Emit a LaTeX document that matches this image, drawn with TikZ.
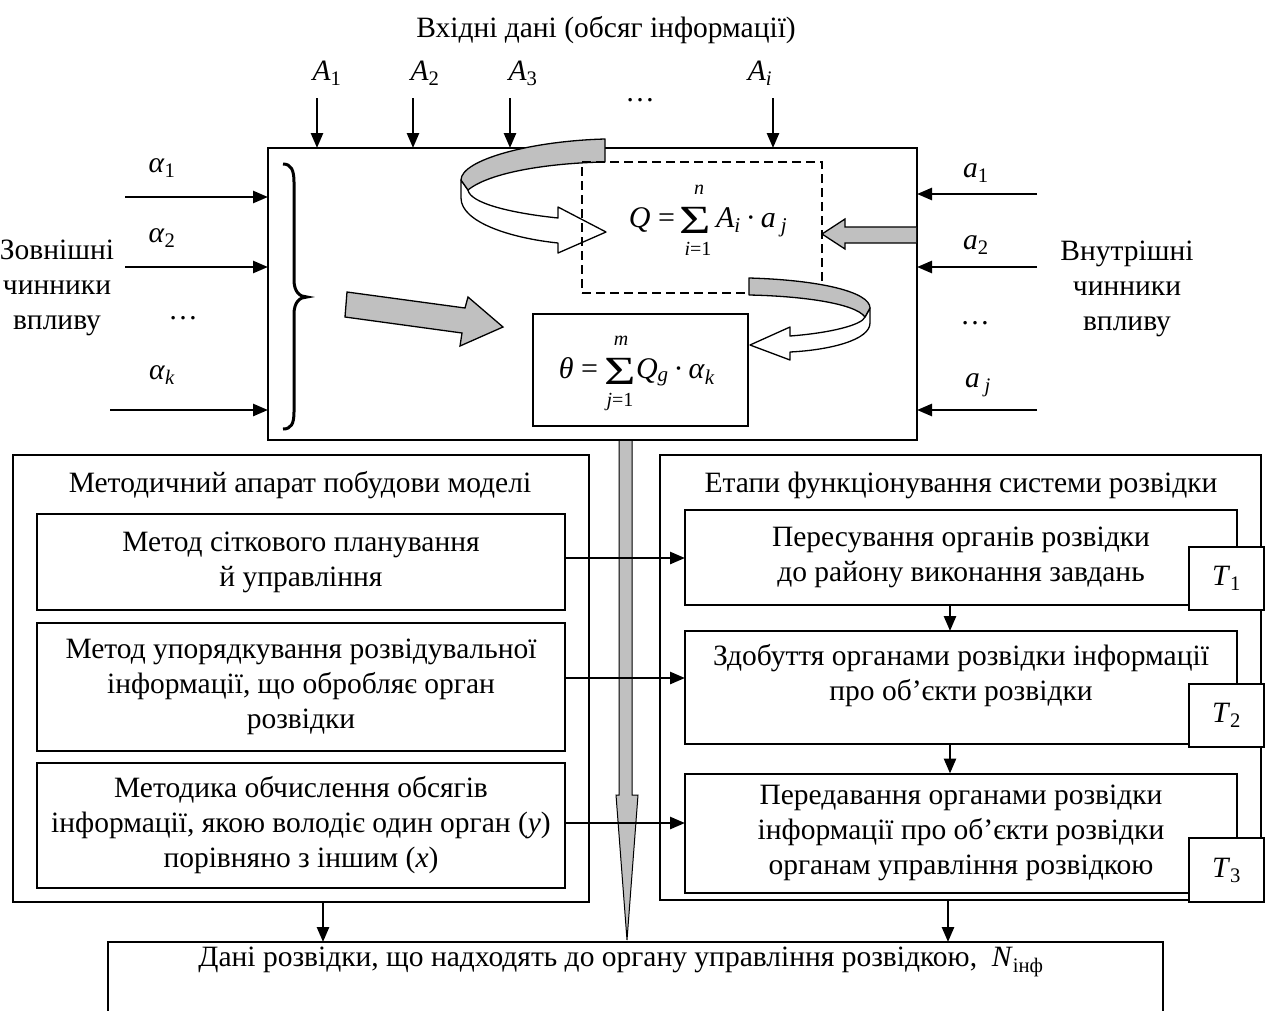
\documentclass[tikz,border=0pt]{standalone}
\usepackage{fontspec}
\setmainfont{Liberation Serif}
\usetikzlibrary{arrows.meta,calc}
\definecolor{ribc}{RGB}{192,192,192}
\newcommand{\bigsig}{\scalebox{1.35}[1]{Σ}}
\begin{document}
\begin{tikzpicture}[x=1pt,y=-1pt,
  every node/.style={inner sep=0pt, outer sep=0pt},
  font=\fontsize{29.5}{35}\selectfont,
  box/.style={draw, line width=2pt, align=center},
  arr/.style={line width=2.6pt, -{Triangle[length=15pt,width=12pt]}},
  rib/.style={draw, line width=1.3pt, line join=round},
  lbl/.style={align=center},
  fml/.style={font=\fontsize{30}{30}\selectfont},
  sig/.style={font=\fontsize{40}{40}\selectfont, text height=26pt, text depth=0pt},
  lim/.style={font=\fontsize{20}{20}\selectfont\itshape, text height=13pt, text depth=0pt}]
\useasboundingbox (0,0) rectangle (1265,1010);

% main box
\node[box, line width=2.5pt, minimum width=649pt, minimum height=292pt] (main) at (592.5,294) {};

% title and inputs
\node (title) at (606,30) {Вхідні дані (обсяг інформації)};
\node (lA1) at (327,73) {\textit{A}\textsubscript{1}};
\node (lA2) at (425,73) {\textit{A}\textsubscript{2}};
\node (lA3) at (523,73) {\textit{A}\textsubscript{3}};
\node (lAi) at (760,73) {\textit{A}\textsubscript{\textit{i}}};
\node (dotsA) at (640,100) {…};

% left labels
\node[lbl] (ext) at (57,288) {Зовнішні\\чинники\\впливу};
\node (al1) at (162,168) {\textit{α}\textsubscript{1}};
\node (al2) at (162,238) {\textit{α}\textsubscript{2}};
\node (alk) at (162,375) {\textit{α}\textsubscript{\textit{k}}};
\node (dotsL) at (183,318) {…};

% right labels
\node[lbl] (int) at (1127,289) {Внутрішні\\чинники\\впливу};
\node (a1) at (976,173) {\textit{a}\textsubscript{1}};
\node (a2) at (976,245) {\textit{a}\textsubscript{2}};
\node (aj) at (978,385) {\textit{a}\,\textsubscript{\textit{j}}};
\node (dotsR) at (975,323) {…};

% brace
\draw[line width=3pt] (283,164) .. controls (291,164) and (294,170) .. (294,182) -- (294,280)
  .. controls (294,292) and (300,297) .. (307,297)
  .. controls (300,297) and (294,302) .. (294,314) -- (294,412)
  .. controls (294,424) and (291,429) .. (283,429);

% big grey arrow
\draw[rib, fill=ribc, line join=miter] (347,292) -- (465,308) -- (468,297) -- (503,327) -- (460,346) -- (462,333) -- (345,317) -- cycle;

% ribbon arrow 1
\draw[rib, fill=white] (461,180) -- (461,198) .. controls (461,222) and (510,238) .. (558,243)
  -- (558,253) -- (606,232) -- (558,207) -- (558,218)
  .. controls (510,213) and (470,203) .. (468,190) -- cycle;
\draw[rib, fill=ribc] (605,139) .. controls (530,141) and (461,160) .. (461,180)
  -- (468,190) .. controls (490,172) and (550,163) .. (605,162) -- cycle;

% dashed box with Q
\node[draw, line width=2pt, dash pattern=on 9pt off 5pt, minimum width=240pt, minimum height=131pt] (qbox) at (702,227.5) {};
\node[sig, anchor=base] (qsig) at (695,233) {\bigsig};
\node[fml, anchor=base east] (qlhs) at (675,227) {\textit{Q} =};
\node[fml, anchor=base west] (qrhs) at (716,227) {\textit{A}\textsubscript{\textit{i}}\,·\,\textit{a}\,\textsubscript{\textit{j}}};
\node[lim, anchor=base] (qn) at (699,194) {n};
\node[lim, anchor=base] (qi) at (698,255) {i\upshape=1};

% theta box
\node[box, minimum width=215pt, minimum height=112pt] (tbox) at (640.5,370) {};
\node[sig, anchor=base] (tsig) at (620,384) {\bigsig};
\node[fml, anchor=base east] (tlhs) at (598,378) {\textit{θ} =};
\node[fml, anchor=base west] (trhs) at (636,378) {\textit{Q}\textsubscript{\textit{g}}\,·\,\textit{α}\textsubscript{\textit{k}}};
\node[lim, anchor=base] (tm) at (621,345) {m};
\node[lim, anchor=base] (tj) at (620,406) {j\upshape=1};

% ribbon arrow 2
\draw[rib, fill=white] (870,308) -- (870,323) .. controls (870,340) and (830,350) .. (790,352)
  -- (790,360) -- (750,345) -- (790,327) -- (790,336)
  .. controls (830,333) and (862,325) .. (865,317) -- cycle;
\draw[rib, fill=ribc] (749,278) .. controls (820,280) and (870,292) .. (870,308)
  -- (865,317) .. controls (855,303) and (800,296) .. (749,295) -- cycle;

% grey arrow from the right
\draw[rib, fill=ribc, line join=miter] (916,227) -- (845,227) -- (845,219) -- (822,234) -- (845,249) -- (845,243) -- (916,243);

% input arrows
\coordinate (cA1) at (317,98);
\coordinate (cA2) at (413,98);
\coordinate (cA3) at (510,98);
\coordinate (cAi) at (773,98);
\foreach \c in {cA1,cA2,cA3,cAi} \draw[arr] (\c) -- (\c |- main.north);
\coordinate (cL1) at (125,197);
\coordinate (cL2) at (125,267);
\coordinate (cLk) at (110,410);
\foreach \c in {cL1,cL2,cLk} \draw[arr] (\c) -- (\c -| main.west);
\coordinate (cR1) at (1037,194);
\coordinate (cR2) at (1037,267);
\coordinate (cRj) at (1037,410);
\foreach \c in {cR1,cR2,cRj} \draw[arr] (\c) -- (\c -| main.east);

% left block
\node[box, line width=2.5pt, minimum width=576pt, minimum height=447pt] (LB) at (301,678.5) {};
\node (lbt) at (300,485) {Методичний апарат побудови моделі};
\node[box, minimum width=528pt, minimum height=96pt] (L1) at (301,562) {Метод сіткового планування\\й управління};
\node[box, minimum width=528pt, minimum height=128pt] (L2) at (301,687) {Метод упорядкування розвідувальної\\інформації, що обробляє орган\\розвідки};
\node[box, minimum width=528pt, minimum height=125pt] (L3) at (301,825.5) {Методика обчислення обсягів\\інформації, якою володіє один орган (\textit{y})\\порівняно з іншим (\textit{x})};

% right block
\node[box, line width=2.5pt, minimum width=601pt, minimum height=445pt] (RB) at (960.5,677.5) {};
\node (rbt) at (961,485) {Етапи функціонування системи розвідки};
\node[box, minimum width=552pt, minimum height=95pt] (R1) at (961,557.5) {Пересування органів розвідки\\до району виконання завдань};
\node[box, minimum width=552pt, minimum height=113pt] (R2) at (961,687.5) {};
\node[lbl] (r2t) at (961,675.5) {Здобуття органами розвідки інформації\\про об’єкти розвідки};
\node[box, minimum width=552pt, minimum height=119pt] (R3) at (961,833) {Передавання органами розвідки\\інформації про об’єкти розвідки\\органам управління розвідкою};
\node[box, fill=white, minimum width=75pt, minimum height=63pt] (T1) at (1226.5,578.5) {\textit{T}\textsubscript{1}};
\node[box, fill=white, minimum width=75pt, minimum height=63pt] (T2) at (1226.5,715.5) {\textit{T}\textsubscript{2}};
\node[box, fill=white, minimum width=75pt, minimum height=64pt] (T3) at (1226.5,870) {\textit{T}\textsubscript{3}};

% bottom box
\node[box, minimum width=1055pt, minimum height=90pt] (bot) at (635.5,987) {};
\node (bt) at (621,962) {Дані розвідки, що надходять до органу управління розвідкою,\enspace\textit{N}\textsubscript{інф}};

% vertical grey arrow
\draw[rib, fill=ribc, line width=1pt, line join=miter] (619,441) -- (619,795) -- (616,795) -- (627,940) -- (638,795) -- (632,795) -- (632,441);

% connectors between blocks
\coordinate (h1) at (0,558);
\coordinate (h2) at (0,678);
\coordinate (h3) at (0,823);
\draw[arr] (L1.east |- h1) -- (R1.west |- h1);
\draw[arr] (L2.east |- h2) -- (R2.west |- h2);
\draw[arr] (L3.east |- h3) -- (R3.west |- h3);
\coordinate (vx) at (950,0);
\draw[arr] (R1.south -| vx) -- (R2.north -| vx);
\draw[arr] (R2.south -| vx) -- (R3.north -| vx);
\coordinate (bl) at (323,0);
\coordinate (br) at (948,0);
\draw[arr] (LB.south -| bl) -- (bot.north -| bl);
\draw[arr] (RB.south -| br) -- (bot.north -| br);
\end{tikzpicture}
\end{document}
